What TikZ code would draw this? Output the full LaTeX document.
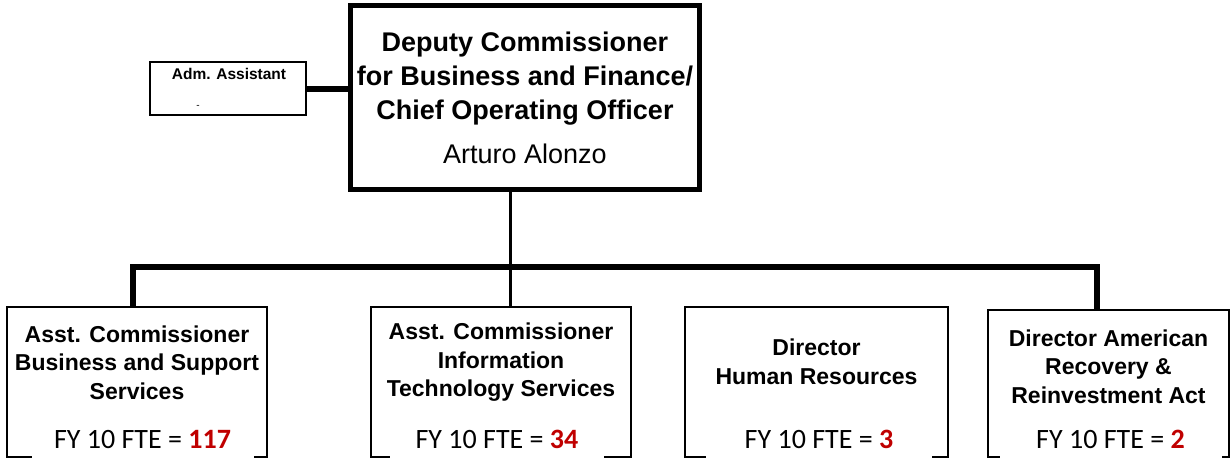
\documentclass[tikz,border=0pt]{standalone}
\usepackage{fontspec}
\setmainfont{Liberation Sans}
\newfontfamily\ftefont{Carlito}
\usetikzlibrary{positioning}
\definecolor{fteRed}{HTML}{C00000}
\newcommand{\fte}[1]{\ftefont FY 10 FTE = \textbf{\textcolor{fteRed}{#1}}}

\begin{document}
\begin{tikzpicture}[x=1pt,y=-1pt,
  chief/.style={draw,line width=5pt,minimum width=349pt,minimum height=184pt,align=center,
    font=\fontsize{27}{34}\selectfont},
  unit/.style={draw,line width=1.6pt,minimum height=150pt,inner sep=0pt},
  title/.style={align=center,font=\fontsize{23}{28.5}\selectfont\bfseries},
  ftebox/.style={fill=white,minimum width=222pt,minimum height=40pt,inner sep=0pt,
    font=\fontsize{28}{30}\selectfont},
  heavy/.style={line width=6pt},
  light/.style={line width=3pt}]
\useasboundingbox (0,0) rectangle (1231,460);

\node[chief] (ceo) at (525,97.5)
  {\textbf{Deputy Commissioner}\\\textbf{for Business and Finance/}\\\textbf{Chief Operating Officer}\\[10pt]Arturo Alonzo};
\node[draw,line width=1.6pt,minimum width=156pt,minimum height=53pt] (adm) at (228,88.5) {};
\node[font=\fontsize{15.5}{18}\selectfont\bfseries] (admtitle) at (229,74) {Adm. Assistant};
\node[font=\fontsize{10}{12}\selectfont] (admname) at (198,107) {-};

\node[unit,minimum width=260pt] (bss) at (137,382) {};
\node[unit,minimum width=260pt] (its) at (501,382) {};
\node[unit,minimum width=263pt] (hr) at (816.5,382) {};
\node[unit,minimum width=241pt,minimum height=147pt] (arra) at (1108.5,383.5) {};

\node[title] (bsstitle) at (137,362.5) {Asst. Commissioner\\Business and Support\\Services};
\node[title] (itstitle) at (501,362.5) {Asst. Commissioner\\Information\\Technology Services};
\node[title] (hrtitle) at (816.5,362) {Director\\Human Resources};
\node[title] (arratitle) at (1108.5,366.5) {Director American\\Recovery \&\\Reinvestment Act};

\node[ftebox] (bssfte) at (142.5,439) {\fte{117}};
\node[ftebox,minimum width=214pt] (itsfte) at (497,439) {\fte{34}};
\node[ftebox,minimum width=226pt] (hrfte) at (819,439) {\fte{3}};
\node[ftebox] (arrafte) at (1110.5,439) {\fte{2}};

\coordinate (bar) at (510,267);
\draw[heavy] (adm.east) -- (adm.east -| ceo.west);
\draw[light] (ceo.south -| bar) -- (bar);
\draw[light] (bar) -- (its.north -| bar);
\draw[heavy] ([xshift=-4pt]bss.north) |- (bar) -| ([xshift=-11.5pt]arra.north);
\end{tikzpicture}
\end{document}
